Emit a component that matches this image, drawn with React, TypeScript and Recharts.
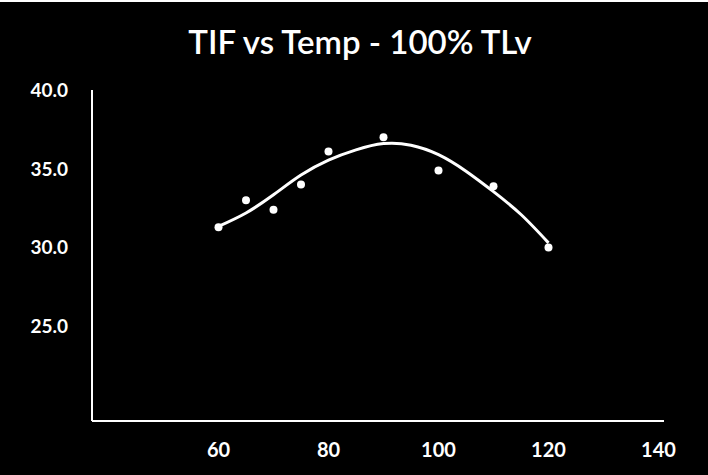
import React from 'react'
import {
  ComposedChart,
  Scatter,
  Line,
  XAxis,
  YAxis,
} from 'recharts'

const temps = [60, 65, 70, 75, 80, 90, 100, 110, 120]
const tifValues = [31.3, 33.0, 32.4, 34.0, 36.1, 37.0, 34.9, 33.9, 30.0]

// trendline
const trendTemps = [60, 65, 70, 75, 80, 85, 90, 95, 100, 105, 110, 115, 120]
const trendValues = [31.35, 32.2, 33.35, 34.6, 35.55, 36.2, 36.6, 36.5, 35.9, 34.85, 33.55, 32.1, 30.3]

const xTicks = [60, 80, 100, 120, 140]
const yTicks = [25, 30, 35, 40]

const points = temps.map((t, i) => ({ x: t, y: tifValues[i] }))
const trend = trendTemps.map((t, i) => ({ x: t, y: trendValues[i] }))

const FONT = 'Lato, "Open Sans", sans-serif'

export default function App() {
  return (
    <div
      style={{
        position: 'absolute',
        left: 0,
        top: 0,
        width: 708,
        height: 475,
        background: '#000',
        borderTop: '2px solid #fff',
        boxSizing: 'border-box',
        fontFamily: FONT,
      }}
    >
      <div
        style={{
          position: 'absolute',
          left: 0,
          width: 720,
          top: 20,
          textAlign: 'center',
          color: '#fff',
          fontSize: 33,
          fontWeight: 600,
          lineHeight: '38px',
        }}
      >
        TIF vs Temp - 100% TLv
      </div>
      <div style={{ position: 'absolute', left: 0, top: -2 }}>
        <ComposedChart
          width={708}
          height={475}
          margin={{ top: 90, right: 44, left: 0, bottom: 0 }}
        >
          <XAxis
            type="number"
            dataKey="x"
            domain={[37, 141]}
            ticks={xTicks}
            allowDataOverflow
            axisLine={{ stroke: '#fff', strokeWidth: 2 }}
            tickLine={false}
            tickSize={0}
            tickMargin={22}
            height={54}
            tick={{ fill: '#fff', fontSize: 20, fontWeight: 700, fontFamily: FONT }}
          />
          <YAxis
            type="number"
            dataKey="y"
            domain={[19, 40]}
            ticks={yTicks}
            allowDataOverflow
            width={92}
            axisLine={{ stroke: '#fff', strokeWidth: 2 }}
            tickLine={false}
            tickSize={0}
            tickMargin={24}
            tickFormatter={(v: number) => v.toFixed(1)}
            tick={{ fill: '#fff', fontSize: 19, fontWeight: 700, fontFamily: FONT }}
          />
          <Line
            data={trend}
            dataKey="y"
            type="natural"
            stroke="#fff"
            strokeWidth={3}
            dot={false}
            activeDot={false}
            isAnimationActive={false}
          />
          <Scatter
            data={points}
            dataKey="y"
            fill="#fff"
            shape={(p: any) => <circle cx={p.cx} cy={p.cy} r={4} fill="#fff" />}
            isAnimationActive={false}
          />
        </ComposedChart>
      </div>
    </div>
  )
}
